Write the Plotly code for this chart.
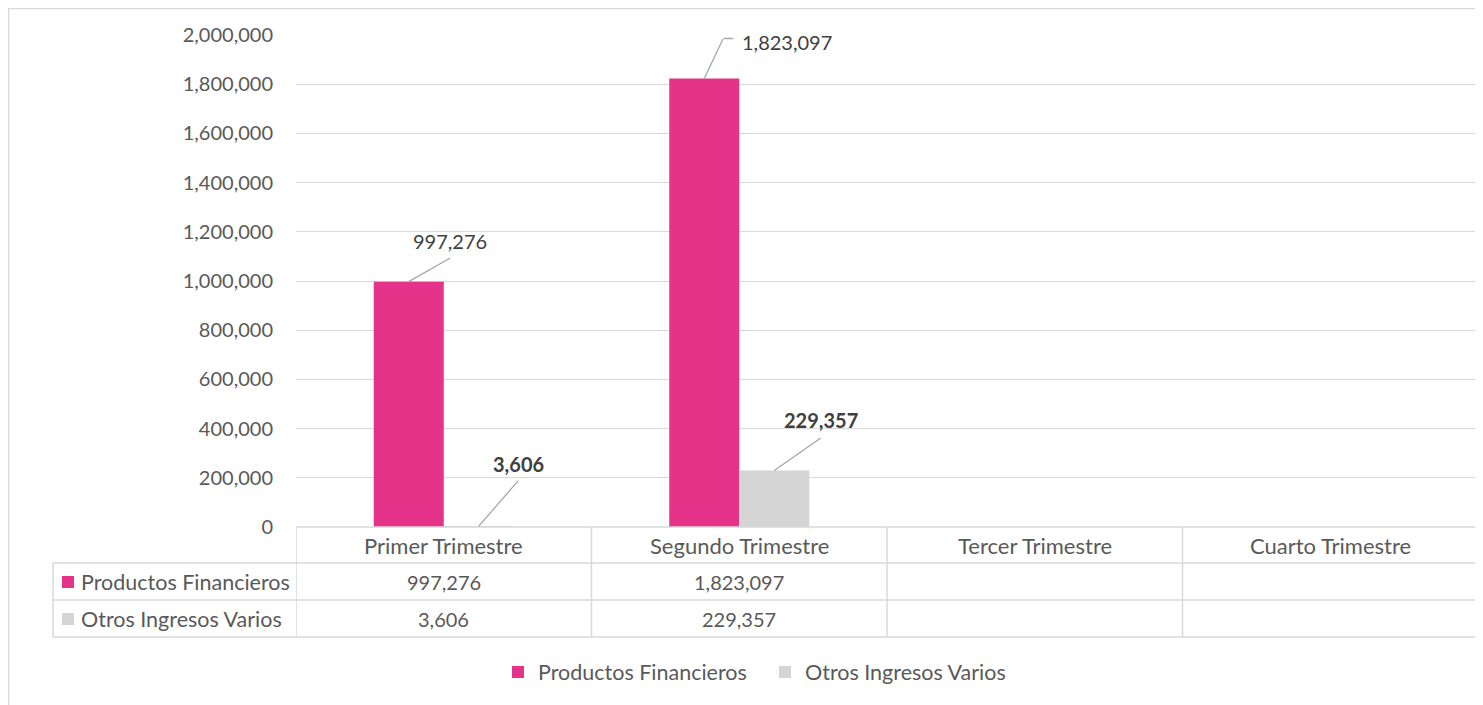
import plotly.graph_objects as go

# ---------------- data ----------------
categories = ["Primer Trimestre", "Segundo Trimestre", "Tercer Trimestre", "Cuarto Trimestre"]
productos_financieros = [997276, 1823097, None, None]
otros_ingresos_varios = [3606, 229357, None, None]
series_names = ["Productos Financieros", "Otros Ingresos Varios"]
y_tick_values = [0, 200000, 400000, 600000, 800000, 1000000, 1200000, 1400000, 1600000, 1800000, 2000000]

# ---------------- styling ----------------
W, H = 1483, 705
OFF = 8  # page body margin
PINK = "#E6338A"
GRAY = "#D4D4D4"
GRID = "#D9D9D9"
TXT = "#595959"
LBL = "#404040"
LEAD = "#A6A6A6"
FONT = "Lato, 'Open Sans', sans-serif"
FS_NUM = 20
FS_TXT = 21.5
FS_HDR = 22

def px(x):
    return (x - OFF) / W

def py(y):
    return 1 - (y - OFF) / H

PL, PR, PT, PB = 296, 1478, 35, 527
ROW_H = [527, 563, 600, 637]
LEFT_COL = 53

series = [productos_financieros, otros_ingresos_varios]
colors = [PINK, GRAY]

fig = go.Figure()
for name, vals, col in zip(series_names, series, colors):
    fig.add_trace(go.Bar(x=categories, y=vals, name=name, marker=dict(color=col, line=dict(width=0)),
                         hoverinfo="skip"))

bargap = 0.526
bw = (1 - bargap) / 2
offsets = [-bw / 2, bw / 2]

shapes = []
annotations = []

# outer chart border
shapes.append(dict(type="rect", xref="paper", yref="paper", x0=px(8.7), x1=px(1495), y0=py(715), y1=py(8.7),
                   line=dict(color=GRID, width=1.3), fillcolor="rgba(0,0,0,0)", layer="below"))

leader = dict(text="", showarrow=True, arrowhead=0, arrowwidth=1.3, arrowcolor=LEAD,
              standoff=0, startstandoff=0, borderpad=0, font=dict(size=1))

# data labels with leader lines: (series, cat index, arrow dx, dy, text dx, dy, bold, elbow, anchor)
label_specs = [
    (0, 0, 42, -24, 41, -41, False, None, "center"),
    (1, 0, 40, -46, 40, -62, True, None, "center"),
    (0, 1, 19, -40, 36, -37, False, 10, "left"),
    (1, 1, 47, -33, 47, -51, True, None, "center"),
]
for s, i, dx, dy, tdx, tdy, bold, elbow, anchor in label_specs:
    v = series[s][i]
    xv = i + offsets[s]
    annotations.append(dict(x=xv, y=v, xref="x", yref="y", ax=dx, ay=dy, **leader))
    if elbow:
        annotations.append(dict(x=xv, y=v, xref="x", yref="y", xshift=dx + elbow, yshift=-dy,
                                ax=-elbow, ay=0, **leader))
    t = f"{v:,}"
    if bold:
        t = f"<b>{t}</b>"
    annotations.append(dict(x=xv, y=v, xref="x", yref="y", text=t, showarrow=False,
                            xshift=tdx, yshift=-tdy, xanchor=anchor, yanchor="middle",
                            font=dict(family=FONT, size=FS_NUM, color=LBL)))

# ---------------- data table ----------------
line_style = dict(color=GRID, width=1.5)
shapes.append(dict(type="line", xref="x", yref="paper", x0=-0.5, x1=len(categories) - 0.5,
                   y0=py(ROW_H[0]), y1=py(ROW_H[0]), line=line_style))
for yy in ROW_H[1:]:
    shapes.append(dict(type="line", xref="paper", yref="paper", x0=px(LEFT_COL), x1=px(PR),
                       y0=py(yy), y1=py(yy), line=line_style))
for k in range(len(categories) + 1):
    shapes.append(dict(type="line", xref="x", yref="paper", x0=k - 0.5, x1=k - 0.5,
                       y0=py(ROW_H[0]), y1=py(ROW_H[-1]), line=line_style))
shapes.append(dict(type="line", xref="paper", yref="paper", x0=px(LEFT_COL), x1=px(LEFT_COL),
                   y0=py(ROW_H[1]), y1=py(ROW_H[-1]), line=line_style))

for c in categories:
    annotations.append(dict(x=c, y=py((ROW_H[0] + ROW_H[1]) / 2), xref="x", yref="paper", text=c,
                            showarrow=False, xanchor="center", yanchor="middle",
                            font=dict(family=FONT, size=FS_HDR, color=TXT)))
for r, (name, vals, col) in enumerate(zip(series_names, series, colors)):
    yc = (ROW_H[r + 1] + ROW_H[r + 2]) / 2
    shapes.append(dict(type="rect", xref="paper", yref="paper", x0=px(62), x1=px(74),
                       y0=py(yc + 6.5), y1=py(yc - 5.5), fillcolor=col, line=dict(width=0)))
    annotations.append(dict(x=px(79), y=py(yc), xref="paper", yref="paper", text=name, showarrow=False,
                            xanchor="left", yanchor="middle", font=dict(family=FONT, size=FS_TXT, color=TXT)))
    for c, v in zip(categories, vals):
        if v is None:
            continue
        annotations.append(dict(x=c, y=py(yc), xref="x", yref="paper", text=f"{v:,}", showarrow=False,
                                xanchor="center", yanchor="middle",
                                font=dict(family=FONT, size=FS_NUM, color=TXT)))

fig.update_layout(
    width=W, height=H, autosize=False,
    margin=dict(l=0, r=0, t=0, b=0, pad=0, autoexpand=False),
    paper_bgcolor="white", plot_bgcolor="white",
    barmode="group", bargap=bargap, bargroupgap=0,
    font=dict(family=FONT, size=FS_TXT, color=TXT),
    xaxis=dict(domain=[px(PL), px(PR)], range=[-0.5, len(categories) - 0.5], type="category",
               categoryorder="array", categoryarray=categories, automargin=False,
               showticklabels=False, showgrid=False, showline=False, zeroline=False, ticks=""),
    yaxis=dict(domain=[py(PB), py(PT)], range=[0, 2000000], tickvals=y_tick_values, tickformat=",",
               showgrid=True, gridcolor=GRID, gridwidth=1.3, zeroline=False, showline=False, ticks="",
               automargin=False,
               tickfont=dict(family=FONT, size=FS_NUM, color=TXT), ticklabelstandoff=22),
    legend=dict(orientation="h", x=px(498), xanchor="left", y=py(672), yanchor="middle",
                font=dict(family=FONT, size=FS_TXT, color=TXT), traceorder="normal",
                entrywidth=222, entrywidthmode="pixels",
                bgcolor="rgba(0,0,0,0)"),
    shapes=shapes,
    annotations=annotations,
)

fig.write_html("out.html")
